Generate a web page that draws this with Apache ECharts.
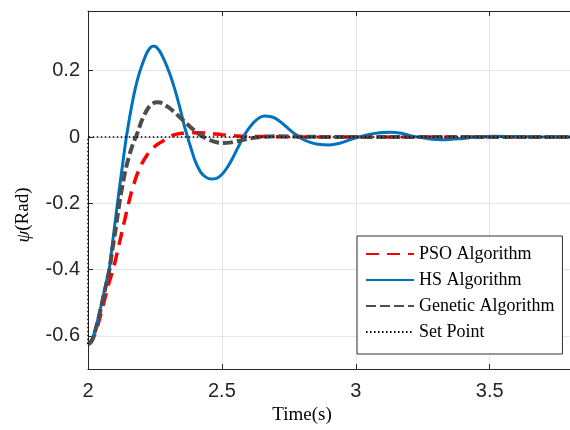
<!DOCTYPE html>
<html><head><meta charset="utf-8">
<script src="https://cdn.jsdelivr.net/npm/echarts@6/dist/echarts.min.js"></script>
<style>html,body{margin:0;padding:0;background:#fff}#c{width:570px;height:430px}</style>
</head><body><div id="c"></div>
<script>
// ---- data ----
const seriesNames = ['PSO Algorithm', 'HS Algorithm', 'Genetic Algorithm', 'Set Point'];
const xTicks = [2, 2.5, 3, 3.5];
const yTicks = [-0.6, -0.4, -0.2, 0, 0.2];

const tPSO = [2.00,2.01,2.02,2.03,2.04,2.05,2.06,2.07,2.08,2.09,2.10,2.11,2.12,2.13,2.14,2.15,2.16,2.17,2.18,2.19,2.20,2.22,2.24,2.26,2.28,2.30,2.32,2.35,2.40,2.45,2.50,2.55,2.60,2.70,2.80,3.80];
const yPSO = [-0.625,-0.620,-0.606,-0.585,-0.558,-0.528,-0.497,-0.465,-0.435,-0.410,-0.380,-0.345,-0.310,-0.275,-0.240,-0.205,-0.173,-0.145,-0.120,-0.100,-0.082,-0.055,-0.035,-0.022,-0.012,-0.002,0.006,0.011,0.013,0.011,0.007,0.004,0.002,0.001,0.000,0.000];

const tHS = [2.00,2.01,2.02,2.03,2.04,2.05,2.06,2.07,2.08,2.09,2.10,2.11,2.12,2.13,2.14,2.15,2.16,2.17,2.18,2.19,2.20,2.21,2.22,2.23,2.24,2.25,2.26,2.27,2.28,2.29,2.30,2.31,2.32,2.33,2.34,2.35,2.36,2.37,2.38,2.39,2.40,2.42,2.44,2.46,2.48,2.50,2.52,2.54,2.56,2.58,2.60,2.62,2.64,2.66,2.68,2.70,2.72,2.74,2.76,2.78,2.80,2.83,2.86,2.90,2.94,2.98,3.01,3.05,3.09,3.13,3.17,3.20,3.23,3.27,3.33,3.39,3.45,3.52,3.60,3.70,3.80];
const yHS = [-0.625,-0.618,-0.600,-0.572,-0.540,-0.505,-0.468,-0.432,-0.395,-0.330,-0.265,-0.200,-0.138,-0.078,-0.018,0.033,0.080,0.122,0.158,0.188,0.213,0.235,0.254,0.267,0.274,0.274,0.267,0.256,0.240,0.222,0.202,0.180,0.155,0.128,0.098,0.066,0.033,0.005,-0.022,-0.048,-0.072,-0.105,-0.121,-0.127,-0.125,-0.113,-0.092,-0.064,-0.032,0.000,0.025,0.045,0.058,0.063,0.062,0.056,0.045,0.031,0.017,0.005,-0.006,-0.016,-0.022,-0.024,-0.019,-0.008,0.000,0.008,0.013,0.014,0.011,0.005,0.000,-0.005,-0.008,-0.005,0.000,0.002,0.0015,0.000,0.000];

const tGA = [2.00,2.01,2.02,2.03,2.04,2.05,2.06,2.07,2.08,2.09,2.10,2.11,2.12,2.13,2.14,2.15,2.16,2.17,2.18,2.19,2.20,2.21,2.22,2.23,2.24,2.25,2.26,2.27,2.28,2.30,2.32,2.34,2.36,2.38,2.40,2.42,2.44,2.46,2.48,2.50,2.53,2.56,2.60,2.65,2.70,2.80,2.90,3.80];
const yGA = [-0.625,-0.619,-0.602,-0.576,-0.545,-0.510,-0.473,-0.437,-0.400,-0.345,-0.295,-0.240,-0.185,-0.140,-0.100,-0.068,-0.040,-0.016,0.002,0.025,0.048,0.066,0.081,0.093,0.100,0.104,0.105,0.104,0.100,0.090,0.077,0.062,0.047,0.032,0.018,0.006,-0.004,-0.011,-0.016,-0.018,-0.017,-0.012,-0.005,0.000,0.002,0.001,0.000,0.000];

const tSet = [2.00, 2.00, 3.80];
const ySet = [-0.625, 0, 0];

const zip = (t, y) => t.map((v, i) => [v, y[i]]);

const axisColor = '#262626';
const gridColor = '#e4e4e4';

const chart = echarts.init(document.getElementById('c'), null, {renderer: 'canvas'});
chart.setOption({
  animation: false,
  backgroundColor: '#fff',
  grid: {left: 88, top: 11, width: 496, height: 361, show: false},
  legend: {
    orient: 'vertical',
    left: 357, top: 236,
    data: seriesNames,
    itemWidth: 48, itemHeight: 14, itemGap: 8, itemTextGap: 8,
    padding: [9, 8, 13, 8],
    borderColor: '#333', borderWidth: 1, borderRadius: 0,
    backgroundColor: '#fff',
    itemStyle: {opacity: 0},
    textStyle: {fontFamily: 'Liberation Serif', fontSize: 18, color: '#000', lineHeight: 17},
    selectedMode: false
  },
  xAxis: [{
    type: 'value', min: 2, max: 3.8, interval: 0.5, position: 'bottom',
    axisLine: {show: true, onZero: false, lineStyle: {color: axisColor, width: 1}},
    axisTick: {show: true, inside: true, length: 5, lineStyle: {color: axisColor}},
    axisLabel: {color: axisColor, fontSize: 20, fontFamily: 'Liberation Sans', margin: 12,
      showMaxLabel: false,
      formatter: v => xTicks.indexOf(+v.toFixed(2)) >= 0 ? String(v) : ''},
    splitLine: {show: true, lineStyle: {color: gridColor, width: 1}},
    name: 'Time(s)', nameLocation: 'middle', nameGap: 34,
    nameTextStyle: {fontFamily: 'Liberation Serif', fontSize: 19, color: '#000', padding: [0, 54, 0, 0]}
  }, {
    type: 'value', min: 2, max: 3.8, interval: 0.5, position: 'top',
    axisLine: {show: true, onZero: false, lineStyle: {color: axisColor, width: 1}},
    axisTick: {show: true, inside: true, length: 5, lineStyle: {color: axisColor}},
    axisLabel: {show: false},
    splitLine: {show: false}
  }],
  yAxis: {
    type: 'value', min: -0.7, max: 0.38,
    axisLine: {show: true, onZero: false, lineStyle: {color: axisColor, width: 1}},
    axisTick: {show: true, inside: true, length: 5, customValues: yTicks, lineStyle: {color: axisColor}},
    axisLabel: {color: axisColor, fontSize: 20, fontFamily: 'Liberation Sans', margin: 8,
      customValues: yTicks,
      formatter: v => (Math.abs(v) < 1e-9 ? '0' : v.toFixed(1))},
    splitLine: {show: true, lineStyle: {color: gridColor, width: 1}},
    name: '{i|ψ}(Rad)', nameLocation: 'middle', nameGap: 55, nameRotate: 90,
    nameTextStyle: {fontFamily: 'Liberation Serif', fontSize: 19, color: '#000', padding: [0, 50, 0, 0],
      rich: {i: {fontStyle: 'italic', fontFamily: 'Liberation Serif', fontSize: 19, color: '#000'}}}
  },
  series: [{
    name: seriesNames[0], type: 'line', data: zip(tPSO, yPSO), showSymbol: false, symbol: 'none', smooth: 0.3,
    lineStyle: {color: '#ff0000', width: 3.5, type: [13, 8]}, itemStyle: {color: '#ff0000'}, z: 2
  }, {
    name: seriesNames[1], type: 'line', data: zip(tHS, yHS), showSymbol: false, symbol: 'none', smooth: 0.3,
    lineStyle: {color: '#0072bd', width: 3, type: 'solid'}, itemStyle: {color: '#0072bd'}, z: 3
  }, {
    name: seriesNames[2], type: 'line', data: zip(tGA, yGA), showSymbol: false, symbol: 'none', smooth: 0.3,
    lineStyle: {color: '#4d4d4d', width: 4, type: [10, 4]}, itemStyle: {color: '#4d4d4d'}, z: 4
  }, {
    name: seriesNames[3], type: 'line', data: zip(tSet, ySet), showSymbol: false, symbol: 'none',
    lineStyle: {color: '#000', width: 1.5, type: [1.5, 2.5]}, itemStyle: {color: '#000'}, z: 5
  }]
});
</script></body></html>
